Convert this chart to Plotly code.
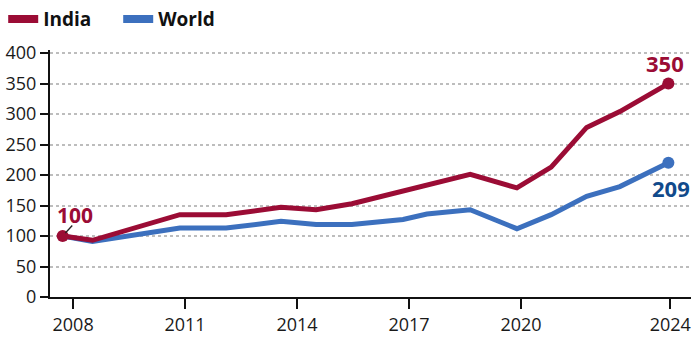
import plotly.graph_objects as go

# ---- data ----
periods = [2007.72, 2008.52, 2010.86, 2012.10, 2013.57, 2014.51, 2015.47, 2016.84,
           2017.48, 2018.64, 2019.89, 2020.81, 2021.76, 2022.65, 2023.95]
india = [100, 93, 135, 135, 147, 143, 153, 174, 183, 201, 179, 213, 278, 304, 350]
world = [100, 91, 113, 113, 124, 119, 119, 127, 136, 143, 112, 135, 165, 181, 220]

x_tick_years = [2008, 2011, 2014, 2017, 2020, 2024]
y_tick_values = [0, 50, 100, 150, 200, 250, 300, 350, 400]

india_start_label = "100"
india_end_label = "350"
world_end_label = "209"

series_names = ["India", "World"]
india_color = "#9B0C35"
world_color = "#3C70BE"
world_label_color = "#114A8B"
font_family = "Open Sans, Liberation Sans, sans-serif"

fig = go.Figure()

fig.add_trace(go.Scatter(
    x=periods, y=world, mode="lines",
    line=dict(color=world_color, width=5),
    showlegend=False, hoverinfo="skip"))
fig.add_trace(go.Scatter(
    x=[periods[-1]], y=[world[-1]], mode="markers",
    marker=dict(color=world_color, size=12, opacity=1, line=dict(width=0)),
    showlegend=False, hoverinfo="skip"))

fig.add_trace(go.Scatter(
    x=periods, y=india, mode="lines",
    line=dict(color=india_color, width=5),
    showlegend=False, hoverinfo="skip"))
fig.add_trace(go.Scatter(
    x=[periods[0], periods[-1]], y=[india[0], india[-1]], mode="markers",
    marker=dict(color=india_color, size=12, opacity=1, line=dict(width=0)),
    showlegend=False, hoverinfo="skip"))

# legend entries
for name, col in zip(series_names, [india_color, world_color]):
    fig.add_trace(go.Scatter(
        x=[None], y=[None], mode="lines",
        line=dict(color=col, width=8),
        name="<b>%s</b>" % name, showlegend=True))

annotations = [
    # leader line from the first India point to its label
    dict(x=periods[0], y=india[0], text="",
         showarrow=True, arrowhead=0, arrowwidth=1.3, arrowcolor="#222222",
         ax=11, ay=-12, standoff=4),
    dict(x=periods[0], y=india[0], text="<b>%s</b>" % india_start_label,
         showarrow=False, xshift=12, yshift=21,
         font=dict(size=21, color=india_color, family=font_family)),
    dict(x=periods[-1], y=india[-1], text="<b>%s</b>" % india_end_label,
         showarrow=False, xshift=-3, yshift=21,
         font=dict(size=22, color=india_color, family=font_family)),
    dict(x=periods[-1], y=world[-1], text="<b>%s</b>" % world_end_label,
         showarrow=False, xshift=3, yshift=-25,
         font=dict(size=22, color=world_label_color, family=font_family)),
]

fig.update_layout(
    width=691, height=340,
    margin=dict(l=50, r=0, t=47, b=43),
    plot_bgcolor="white", paper_bgcolor="white",
    font=dict(family=font_family, size=18, color="#1a1a1a"),
    hovermode=False,
    legend=dict(orientation="h", x=-0.073, xanchor="left", y=1.125, yanchor="middle",
                font=dict(size=19, color="#111111", family=font_family),
                entrywidth=70, entrywidthmode="pixels",
                bgcolor="rgba(0,0,0,0)", itemclick=False),
    annotations=annotations,
    xaxis=dict(range=[2007.381, 2024.556], tickvals=x_tick_years,
               ticktext=[str(t) for t in x_tick_years],
               ticks="outside", ticklen=10, tickwidth=1.5, tickcolor="#111111",
               showline=True, linecolor="#111111", linewidth=2,
               showgrid=False, zeroline=False, fixedrange=True),
    yaxis=dict(range=[0, 405], tickvals=y_tick_values,
               ticks="outside", ticklen=8, tickwidth=1.5, tickcolor="#111111",
               showline=True, linecolor="#111111", linewidth=2,
               showgrid=True, gridcolor="#bdbdbd", griddash="dot", gridwidth=1.5,
               zeroline=False, fixedrange=True),
)

fig.write_html("out.html", config={"displayModeBar": False})
